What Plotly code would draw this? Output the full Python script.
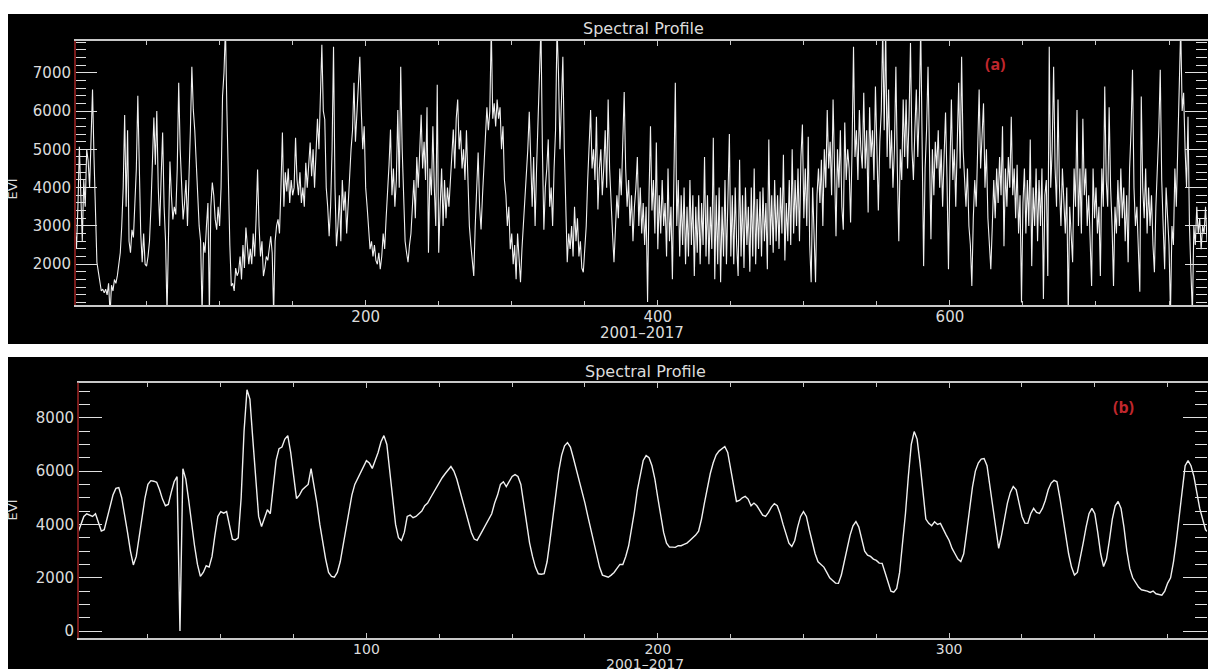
import plotly.graph_objects as go

# ---------------- data ----------------
evi_a = [
    3000, 2400, 3500, 5070, 3800, 2600, 4200, 3500, 5000, 4700,
    4000, 5600, 6560, 4800, 3000, 2050, 1800, 1500, 1300, 1350,
    1250, 1350, 1200, 1500, 700, 1450, 1300, 1600, 1500, 1700,
    2000, 2300, 3000, 4000, 5900, 3500, 5500, 2600, 2300, 2900,
    2700, 3600, 4500, 6400, 4000, 2800, 2050, 2800, 2000, 1950,
    2200, 2600, 3500, 4800, 5830, 4600, 6000, 4000, 3000, 4300,
    5440, 3500, 2600, 700, 2400, 4680, 3800, 3170, 3500, 3300,
    4500, 6740, 5000, 4000, 3170, 3600, 4200, 3000, 4000, 5500,
    7160, 6030, 5500, 4500, 3800, 3000, 2600, 700, 2570, 2300,
    3000, 3600, 700, 3500, 4130, 3800, 3170, 2900, 3500, 3000,
    4000, 6380, 7000, 8200, 6000, 4000, 2500, 1430, 1500, 1300,
    1900, 1700, 1800, 2200, 1600, 2500, 1900, 2960, 2400, 2000,
    2400, 2000, 2800, 2200, 3200, 4470, 3000, 2200, 2600, 1690,
    1900, 2200, 2100, 2500, 2730, 2300, 700, 2600, 3000, 3170,
    2800, 4000, 5440, 3500, 4400, 3900, 4500, 3600, 4200, 3800,
    4000, 5300, 4200, 3800, 4400, 3600, 4000, 3500, 4650, 4000,
    4500, 5180, 4300, 5000, 4000, 4800, 5800, 5000, 6200, 7730,
    6000, 5780, 4000, 3500, 2730, 3500, 5000, 7680, 4000, 2470,
    3000, 3800, 2600, 4200, 3400, 3900, 2800, 3500, 4500, 5000,
    5500, 6740, 5200, 6000, 6600, 7420, 6000, 5000, 5600, 4000,
    3500, 2800, 2390, 2600, 2200, 2500, 2100, 2000, 2300, 1870,
    2200, 2800, 2400, 3200, 3800, 4600, 5520, 3800, 4500, 3500,
    4200, 6030, 4000, 7160, 5000, 3500, 2600, 2300, 2050, 2500,
    2800, 3500, 4200, 3200, 4800, 4000, 5000, 5900, 4500, 5200,
    4200, 6100, 2300, 4500, 3800, 5600, 4000, 3000, 6690, 2300,
    3500, 4500, 3000, 4200, 3200, 4000, 3500, 4200, 4800, 5520,
    4500, 5800, 6300, 5000, 5500, 4500, 5000, 4200, 5500, 4000,
    3000, 2500, 2000, 1690, 3000, 4000, 4920, 3500, 2910, 3800,
    4500, 5200, 6100, 5500, 6000, 8200, 5800, 6200, 5600, 6300,
    5800, 6100, 5000, 5600, 4200, 3800, 3000, 3500, 2390, 2800,
    2000, 2500, 1610, 2800, 2000, 1530, 2400, 3000, 3600, 4200,
    5000, 5980, 4500, 3500, 4800, 3000, 4500, 5500, 6500, 8200,
    5000, 2900, 4000, 4500, 5260, 3500, 4000, 3000, 4500, 5500,
    8200, 7000, 5000, 6000, 7420, 5000, 3500, 2050, 2800, 2400,
    3000, 2200, 3500, 2600, 3200, 2200, 2600, 1900, 1790, 2500,
    3000, 4200, 5000, 6030, 4500, 5000, 4200, 5850, 3430, 4500,
    5000, 3800, 4500, 5500, 4000, 6300, 4500, 3500, 2800, 2050,
    3000, 3800, 3200, 4500, 3800, 5000, 6500, 4500, 3500, 4200,
    3000, 3800, 2600, 3500, 4000, 4800, 3000, 4000, 2800, 3600,
    2500, 3500, 1010, 3800, 5600, 3400, 4200, 2800, 5180, 2390,
    3800, 2800, 4200, 3000, 3600, 2200, 4500, 2600, 3500, 1610,
    4000, 6740, 3000, 4200, 2200, 3800, 2500, 4000, 2000, 3500,
    2200, 4200, 2500, 3800, 1690, 3500, 2300, 3800, 2000, 3600,
    2500, 4800, 2200, 3800, 2000, 3500, 2400, 5300, 1610, 3800,
    2000, 4000, 1530, 3500, 2200, 4200, 2000, 3600, 5400, 2200,
    3800, 2000, 4000, 2500, 1690, 4730, 2200, 3800, 1900, 4000,
    2500, 3500, 1800, 4000, 2200, 4500, 2000, 3700, 2400, 3900,
    2200, 4000, 2600, 3600, 1870, 5260, 2500, 3800, 2300, 4200,
    2600, 3800, 2400, 4000, 2800, 4860, 2100, 3600, 2600, 4200,
    2500, 5000, 2800, 4200, 3000, 4500, 2600, 4800, 5650, 3200,
    4500, 3000, 5330, 2500, 1530, 4000, 2600, 1530, 3800, 4500,
    3600, 4730, 3000, 5000, 4000, 6030, 4500, 5200, 3800, 6300,
    4500, 2730, 5000, 4000, 5500, 3500, 2900, 5700, 4200, 5000,
    4500, 3090, 5000, 7680, 4800, 5500, 4200, 6030, 5000, 4500,
    6480, 4500, 5500, 3350, 6100, 4800, 5500, 4200, 6640, 5000,
    3400, 5200, 6000, 8200, 5500, 8200, 4800, 6560, 4500, 5500,
    4000, 5000, 7160, 4500, 2600, 5000, 4200, 6300, 4800, 6300,
    4500, 5800, 7780, 5000, 4200, 5500, 6560, 4800, 6000, 8200,
    5500, 1950, 4500, 5500, 7160, 4200, 2650, 5000, 3800, 5200,
    4500, 5500, 4000, 5000, 3500, 4800, 5960, 4200, 1870, 4500,
    6300, 4200, 5000, 3500, 5500, 6740, 4500, 7420, 5000, 4000,
    3500, 4500, 3000, 2500, 1430, 3200, 4200, 3500, 5000, 6560,
    4500, 5200, 6200, 4000, 5000, 3200, 2600, 1870, 3000, 4200,
    3200, 4500, 3600, 4800, 3800, 5600, 2470, 4500, 3500, 4800,
    4000, 5850, 3800, 4500, 3200, 4600, 2800, 3800, 1000, 3600,
    4500, 2800, 4200, 3000, 5260, 1950, 4000, 3000, 4500, 2600,
    4200, 3000, 4500, 1090, 3800, 4200, 1690, 7680, 4000, 5000,
    7160, 4500, 3500, 6300, 4000, 3000, 4500, 3500, 2800, 4000,
    700, 3500, 2800, 2050, 4500, 3500, 6030, 3000, 4500, 2800,
    5800, 3800, 4500, 3000, 3800, 2500, 1430, 4500, 3200, 4000,
    2800, 3500, 1690, 4500, 3500, 6640, 4200, 3500, 6100, 4000,
    3000, 1430, 3500, 2800, 4200, 3000, 4500, 3200, 4000, 2600,
    3800, 2050, 4500, 5500, 7080, 4000, 3000, 3500, 2200, 1280,
    6380, 4000, 3200, 4500, 2800, 4000, 3000, 3800, 2500, 1790,
    3500, 4500, 5500, 7080, 4200, 3000, 1870, 4000, 3000, 2500,
    700, 3000, 2500, 4500, 3500, 5000, 6000, 8200, 6000, 6480,
    5000, 4000, 5850, 3000, 1790, 700, 3000, 2500, 3500, 2800,
    3200, 2390, 3000, 2800, 3500, 2600,
]

evi_b = [
    3700, 4000, 4300, 4400, 4350, 4300, 4400, 4100, 3750, 3800,
    4200, 4700, 5100, 5350, 5380, 5000, 4400, 3700, 3000, 2480,
    2800, 3500, 4300, 5000, 5500, 5640, 5620, 5580, 5300, 4950,
    4700, 4750, 5200, 5600, 5790, 0, 6090, 5700, 4900, 4000,
    3200, 2500, 2050, 2200, 2450, 2400, 2800, 3600, 4300, 4480,
    4420, 4480, 3900, 3450, 3420, 3500, 5000, 7500, 9050, 8700,
    7200, 5600, 4300, 3920, 4200, 4550, 4400, 5300, 6400, 6840,
    6900, 7200, 7330, 6700, 5800, 4970, 5100, 5300, 5400, 5500,
    6090, 5500, 4800, 4000, 3300, 2700, 2200, 2050, 2020, 2200,
    2600, 3200, 3900, 4500, 5100, 5500, 5720, 6000, 6200, 6390,
    6300, 6100, 6400, 6700, 7100, 7330, 7000, 6000, 5000, 4000,
    3500, 3400, 3700, 4300, 4350, 4250, 4300, 4400, 4500, 4700,
    4800, 5000, 5200, 5400, 5600, 5750, 5900, 6050, 6170, 6000,
    5700, 5300, 4900, 4500, 4100, 3700, 3450, 3400, 3600, 3800,
    4000, 4200, 4400, 4800, 5100, 5500, 5600, 5420, 5600, 5800,
    5870, 5800, 5500, 4800, 4000, 3300, 2800, 2400, 2150, 2130,
    2150, 2600, 3400, 4300, 5200, 6000, 6600, 6950, 7070, 6900,
    6500, 6100, 5700, 5300, 4800, 4300, 3800, 3300, 2800, 2400,
    2100, 2050, 2020, 2100, 2200, 2350, 2500, 2500, 2800, 3200,
    3800, 4500, 5300, 5900, 6400, 6580, 6500, 6200, 5700, 5000,
    4300, 3700, 3300, 3150, 3150, 3140, 3200, 3200, 3250, 3300,
    3400, 3500, 3600, 3750, 4200, 4800, 5400, 5900, 6300, 6600,
    6750, 6850, 6920, 6700, 6100, 5400, 4860, 4900, 5000, 5050,
    4950, 4700, 4800, 4700, 4500, 4350, 4300, 4450, 4650, 4780,
    4700, 4400, 4000, 3600, 3300, 3170, 3400, 3900, 4300, 4480,
    4300, 3800, 3300, 2900, 2600, 2500, 2400, 2200, 2000, 1900,
    1800, 1790, 2100, 2600, 3100, 3600, 3950, 4110, 3900, 3400,
    3000, 2850, 2800, 2700, 2650, 2550, 2540, 2200, 1800, 1500,
    1460, 1600, 2200, 3200, 4400, 5800, 7000, 7480, 7200, 6300,
    5100, 4200, 4040, 3950, 4100, 4000, 4040, 3800, 3600, 3400,
    3100, 2900, 2700, 2610, 2900, 3700, 4600, 5400, 6000, 6300,
    6450, 6470, 6200, 5400, 4500, 3700, 3100, 3600, 4200, 4800,
    5200, 5420, 5300, 4800, 4300, 4050, 4040, 4400, 4600, 4450,
    4410, 4600, 4900, 5300, 5550, 5650, 5600, 5000, 4300, 3500,
    2900, 2400, 2100, 2200, 2700, 3300, 3900, 4400, 4600, 4400,
    3700, 2900, 2420, 2700, 3400, 4200, 4700, 4860, 4600, 3900,
    3000, 2350, 2000, 1800, 1650, 1550, 1530, 1500, 1450, 1500,
    1400, 1380, 1350, 1500, 1800, 2000, 2600, 3400, 4400, 5400,
    6200, 6390, 6200, 5800, 5200, 4600, 4200, 3800, 3700,
]

ticks_a = [200, 400, 600]
ticks_b = [100, 200, 300]
yticks_a = [2000, 3000, 4000, 5000, 6000, 7000]
yticks_b = [0, 2000, 4000, 6000, 8000]
title_text = "Spectral Profile"
xlabel_text = "2001–2017"
ylabel_text = "EVI"

idx_a = list(range(1, len(evi_a) + 1))
idx_b = list(range(1, len(evi_b) + 1))

W, H = 1208, 671
def px(x):
    return x / W
def py(y):
    return 1 - y / H

TXT = "#dcdcdc"
FONT = "DejaVu Sans"

fig = go.Figure()
fig.add_trace(go.Scatter(x=idx_a, y=evi_a, mode="lines",
                         line=dict(color="#f0f0f0", width=1.1),
                         xaxis="x", yaxis="y", hoverinfo="skip", showlegend=False))
fig.add_trace(go.Scatter(x=idx_b, y=evi_b, mode="lines",
                         line=dict(color="#f0f0f0", width=1.4),
                         xaxis="x2", yaxis="y2", hoverinfo="skip", showlegend=False))

common_x = dict(showgrid=False, zeroline=False, showline=True, linecolor="#c8c8c8",
                linewidth=1.5, mirror="ticks", ticks="inside", ticklen=5,
                tickcolor="#c8c8c8", tickwidth=1, ticklabelstandoff=-3,
                tickfont=dict(family=FONT, size=15, color=TXT))
common_y = dict(showgrid=False, zeroline=False, showline=True, linecolor="black",
                linewidth=1, mirror="ticks", ticks="inside", ticklen=22,
                tickcolor="#e0e0e0", tickwidth=1.3, tickfont=dict(family=FONT, size=15, color=TXT))

minor_a_x = [v for v in range(50, 800, 50) if v not in ticks_a]
minor_b_x = [v for v in range(25, 400, 25) if v not in ticks_b]
minor_a_y = [v for v in range(1000, 7801, 200) if v not in yticks_a]
minor_b_y = [v for v in range(0, 9301, 500) if v not in yticks_b]

def ann(text, x, y, size, color=TXT, family=FONT, angle=0):
    return dict(text=text, x=px(x), y=py(y), xref="paper", yref="paper",
                xanchor="center", yanchor="middle", showarrow=False, textangle=angle,
                font=dict(family=family, size=size, color=color))

fig.update_layout(
    width=W, height=H,
    margin=dict(l=0, r=0, t=0, b=0),
    paper_bgcolor="white", plot_bgcolor="black",
    showlegend=False,
    xaxis=dict(common_x, domain=[px(75), px(1207)], range=[1, 776], anchor="y",
               tickmode="array", tickvals=ticks_a,
               minor=dict(tickmode="array", tickvals=minor_a_x, ticks="inside",
                          ticklen=4, tickcolor="#c8c8c8")),
    yaxis=dict(common_y, domain=[py(306), py(41)], range=[932, 7833], anchor="x",
               tickmode="array", tickvals=yticks_a,
               minor=dict(tickmode="array", tickvals=minor_a_y, ticks="inside",
                          ticklen=11, tickcolor="#e0e0e0")),
    xaxis2=dict(common_x, domain=[px(78), px(1207)], range=[1, 388.5], anchor="y2",
                tickmode="array", tickvals=ticks_b,
                tickfont=dict(family=FONT, size=14, color=TXT),
                minor=dict(tickmode="array", tickvals=minor_b_x, ticks="inside",
                           ticklen=4, tickcolor="#c8c8c8")),
    yaxis2=dict(common_y, domain=[py(640), py(384)], range=[-262, 9308], anchor="x2",
                tickmode="array", tickvals=yticks_b, ticklen=24,
                minor=dict(tickmode="array", tickvals=minor_b_y, ticks="inside",
                           ticklen=12, tickcolor="#e0e0e0")),
    shapes=[
        dict(type="rect", xref="paper", yref="paper", x0=px(8), x1=1, y0=py(345), y1=py(14),
             fillcolor="black", line=dict(width=0), layer="below"),
        dict(type="rect", xref="paper", yref="paper", x0=px(8), x1=1, y0=0, y1=py(358),
             fillcolor="black", line=dict(width=0), layer="below"),
        dict(type="line", xref="paper", yref="paper", x0=px(75), x1=px(75),
             y0=py(306), y1=py(41), line=dict(color="#7a1c1c", width=2), layer="above"),
        dict(type="line", xref="paper", yref="paper", x0=px(78), x1=px(78),
             y0=py(640), y1=py(384), line=dict(color="#7a1c1c", width=2), layer="above"),
    ],
    annotations=[
        ann(title_text, 643, 29, 16),
        ann(title_text, 645, 373, 16),
        ann(xlabel_text, 642, 334, 15),
        ann(xlabel_text, 645, 666, 14),
        ann(ylabel_text, 12, 190, 13, angle=-90),
        ann(ylabel_text, 12, 512, 13, angle=-90),
        ann("<b>(a)</b>", 995, 64, 16, color="#c0272d", family="Open Sans"),
        ann("<b>(b)</b>", 1123, 408, 16, color="#c0272d", family="Open Sans"),
    ],
)

fig.write_html(
    "out.html",
    config={"displayModeBar": False},
    post_script="document.body.style.margin='0';document.body.style.overflow='hidden';",
)
